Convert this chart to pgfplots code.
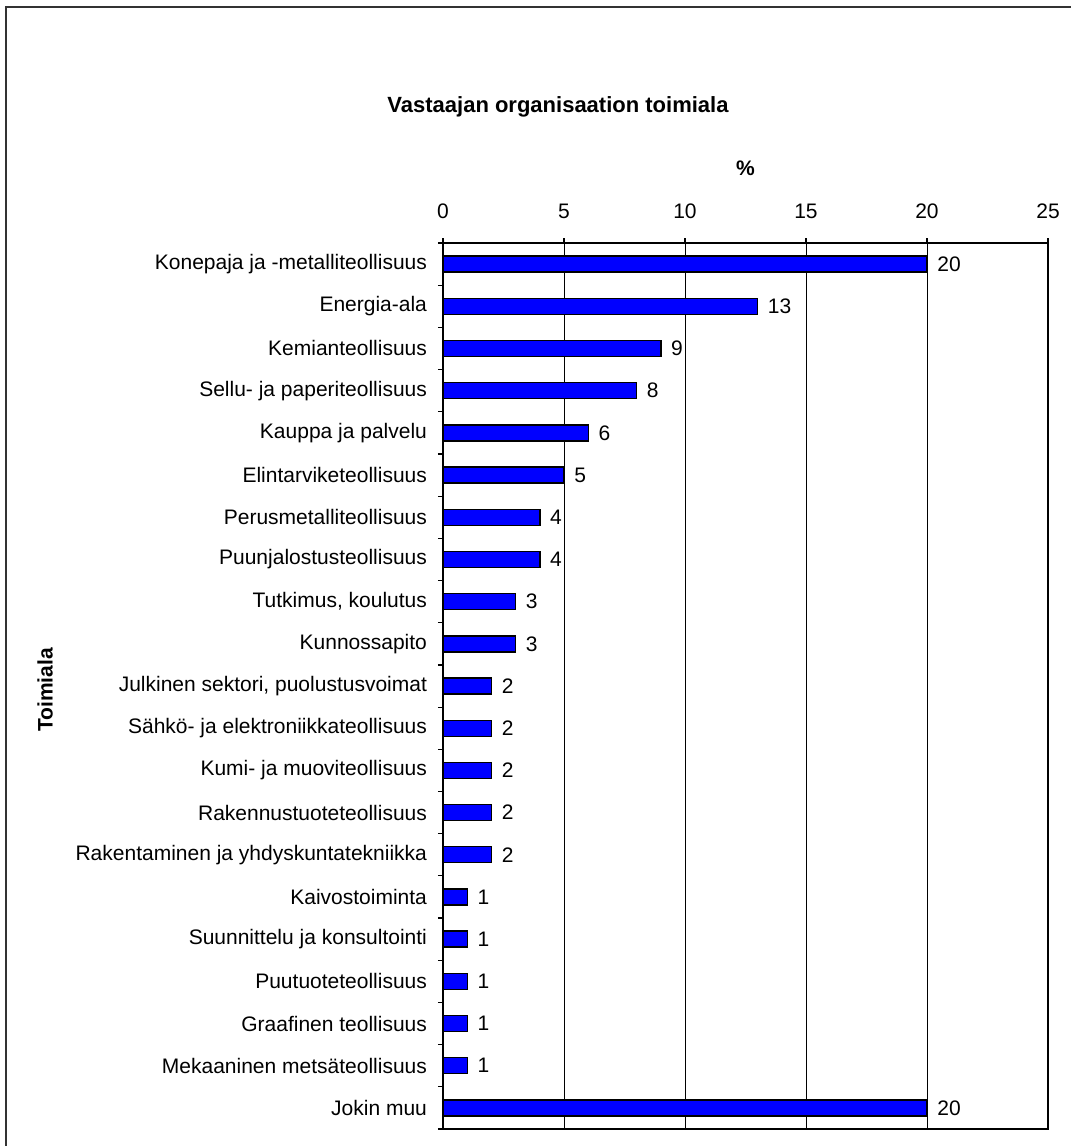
\documentclass[border=0pt]{standalone}
\usepackage{fontspec}
\setmainfont{Liberation Sans}
\usepackage{pgfplots}
\pgfplotsset{compat=1.18}
\begin{document}
\begin{tikzpicture}[x=1pt,y=1pt]
\path[use as bounding box] (0,0) rectangle (535.5,-573);
\draw[line width=0.9pt, black!80] (3,-573) -- (3,-3.5) -- (535.5,-3.5);
\begin{axis}[
  at={(221.5pt,-121.5pt)}, anchor=north west,
  scale only axis, width=302.5pt, height=443pt,
  font=\fontsize{10.5}{12.6}\selectfont,
  xbar, bar width=8pt,
  xmin=0, xmax=25, xtick={0,5,...,25},
  xtick pos=upper, xticklabel pos=upper,
  /pgf/number format/assume math mode=true,
  xmajorgrids, grid style={black, line width=0.5pt},
  y dir=reverse, ymin=-0.5, ymax=20.5,
  ytick={0,...,20},
  yticklabels={Konepaja ja -metalliteollisuus, Energia-ala, Kemianteollisuus, Sellu- ja paperiteollisuus, Kauppa ja palvelu, Elintarviketeollisuus, Perusmetalliteollisuus, Puunjalostusteollisuus, {Tutkimus, koulutus}, Kunnossapito, {Julkinen sektori, puolustusvoimat}, Sähkö- ja elektroniikkateollisuus, Kumi- ja muoviteollisuus, Rakennustuoteteollisuus, Rakentaminen ja yhdyskuntatekniikka, Kaivostoiminta, Suunnittelu ja konsultointi, Puutuoteteollisuus, Graafinen teollisuus, Mekaaninen metsäteollisuus, Jokin muu},
  ytick pos=left, major y tick style={draw=none},
  minor ytick={-0.5,0.5,...,20.5},
  minor y tick style={draw=black, line width=0.6pt},
  minor tick length=2.5pt, major tick length=2.5pt,
  tick align=outside,
  x tick style={black, line width=0.6pt},
  axis line style={black, line width=0.9pt},
  yticklabel style={xshift=-2pt},
  xticklabel style={yshift=6pt},
  nodes near coords,
  nodes near coords style={anchor=west, xshift=1.5pt, font=\fontsize{10.5}{12.6}\selectfont, /pgf/number format/assume math mode=true},
]
\addplot[fill={rgb,255:red,0;green,0;blue,255}, draw=black, line width=0.7pt] coordinates {
(20,0) (13,1) (9,2) (8,3) (6,4) (5,5) (4,6) (4,7) (3,8) (3,9) (2,10) (2,11) (2,12) (2,13) (2,14) (1,15) (1,16) (1,17) (1,18) (1,19) (20,20)
};
\end{axis}
\node[font=\bfseries\fontsize{11}{13}\selectfont] at (279,-53.5) {Vastaajan organisaation toimiala};
\node[font=\bfseries\fontsize{10.5}{12.6}\selectfont] at (372.75,-84) {\%};
\node[font=\bfseries\fontsize{10.5}{12.6}\selectfont, rotate=90] at (22.5,-345) {Toimiala};
\end{tikzpicture}
\end{document}
